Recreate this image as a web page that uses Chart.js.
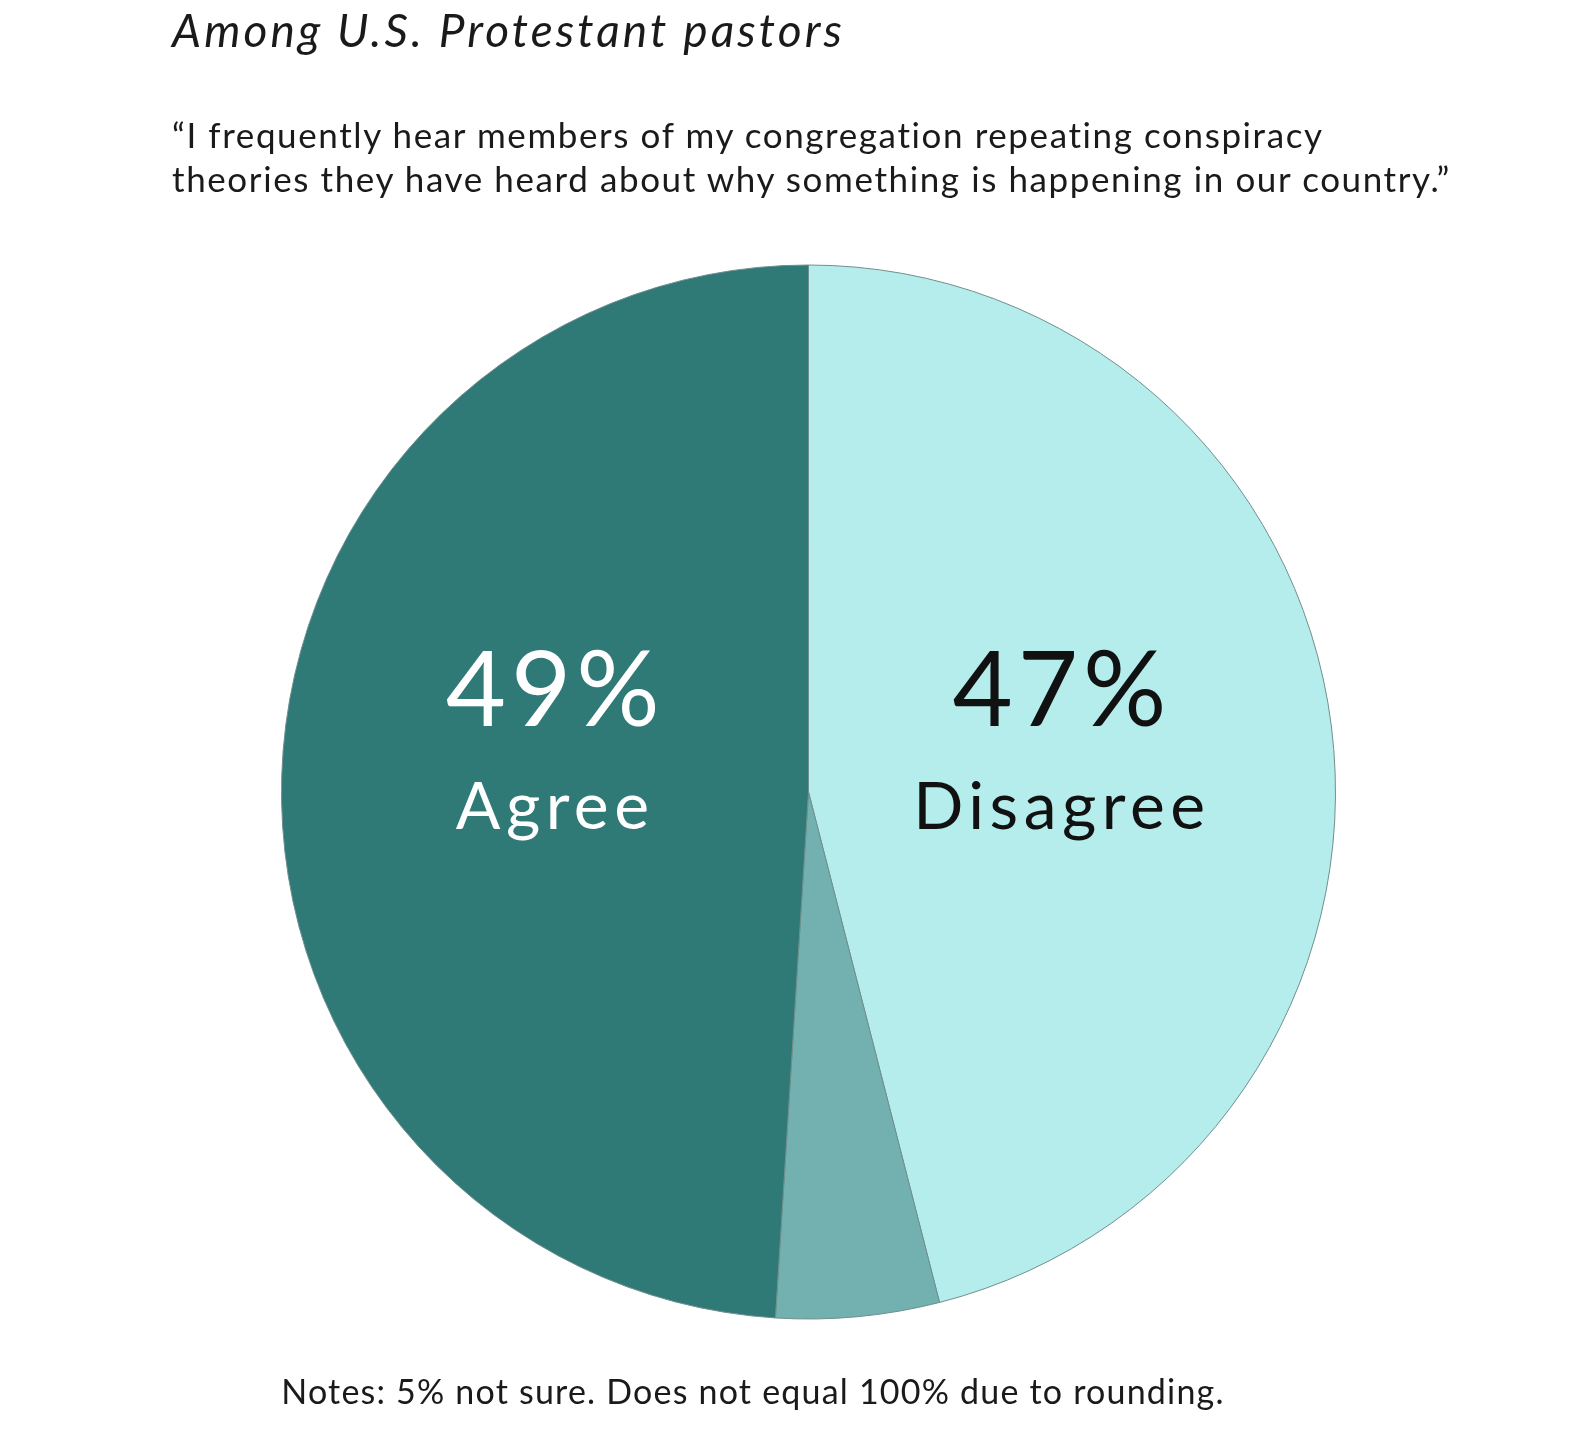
<!DOCTYPE html>
<html>
<head>
<meta charset="utf-8">
<script src="https://cdn.jsdelivr.net/npm/chart.js@4.4.1/dist/chart.umd.min.js"></script>
<style>
    html, body { margin: 0; padding: 0; background: #ffffff; }
    body { width: 1588px; height: 1442px; position: relative; overflow: hidden; font-family: "Lato", sans-serif; }
    #title { position: absolute; left: 172px; top: 2px; font-size: 46px; font-style: italic; color: #1a1a1a; letter-spacing: 3.1px; }
    #subtitle { position: absolute; left: 172px; top: 112px; font-size: 35px; line-height: 44px; color: #1a1a1a; letter-spacing: 1.6px; }
    #notes { position: absolute; left: 0; width: 1506px; text-align: center; top: 1370px; font-size: 34px; color: #1a1a1a; letter-spacing: 1.2px; }
    #pieChart { position: absolute; left: 0; top: 0; }
</style>
</head>
<body>
<canvas id="pieChart" width="1588" height="1442"></canvas>
<div id="title">Among U.S. Protestant pastors</div>
<div id="subtitle">“I frequently hear members of my congregation repeating conspiracy<br>theories they have heard about why something is happening in our country.”</div>
<div id="notes">Notes: 5% not sure. Does not equal 100% due to rounding.</div>
<script>
const categories = ["Disagree", "Not sure", "Agree"];
// slice sizes as drawn in the picture (labels show rounded survey numbers)
const values = [46, 5, 49];
const valueLabels = ["47%", "", "49%"];
const sliceColors = ["#b5ecec", "#72b1af", "#2f7977"];
const textColors = ["#111111", "#111111", "#ffffff"];
const labelShift = [-8, 0, 10];

// draws the big percent + category text inside the slices
const sliceLabels = {
    id: "sliceLabels",
    afterDatasetsDraw(chart) {
        const ctx = chart.ctx;
        const meta = chart.getDatasetMeta(0);
        meta.data.forEach((arc, i) => {
            if (!valueLabels[i]) return;
            const pos = arc.tooltipPosition();
            const x = pos.x + labelShift[i];
            const cy = arc.y;
            ctx.save();
            ctx.fillStyle = textColors[i];
            ctx.textAlign = "center";
            ctx.textBaseline = "middle";
            ctx.letterSpacing = "5px";
            ctx.font = "104px Lato";
            ctx.fillText(valueLabels[i], x, cy - 100);
            ctx.letterSpacing = "5.5px";
            ctx.font = "66px Lato";
            ctx.fillText(categories[i], x, cy + 16);
            ctx.restore();
        });
    }
};

new Chart(document.getElementById("pieChart"), {
    type: "pie",
    data: {
        labels: categories,
        datasets: [{
            data: values,
            backgroundColor: sliceColors,
            borderColor: "#6f8f8e",
            borderWidth: 1
        }]
    },
    options: {
        responsive: false,
        animation: false,
        layout: {
            padding: { left: 281, right: 252, top: 264, bottom: 122 }
        },
        plugins: {
            legend: { display: false },
            tooltip: { enabled: false }
        }
    },
    plugins: [sliceLabels]
});
</script>
</body>
</html>
